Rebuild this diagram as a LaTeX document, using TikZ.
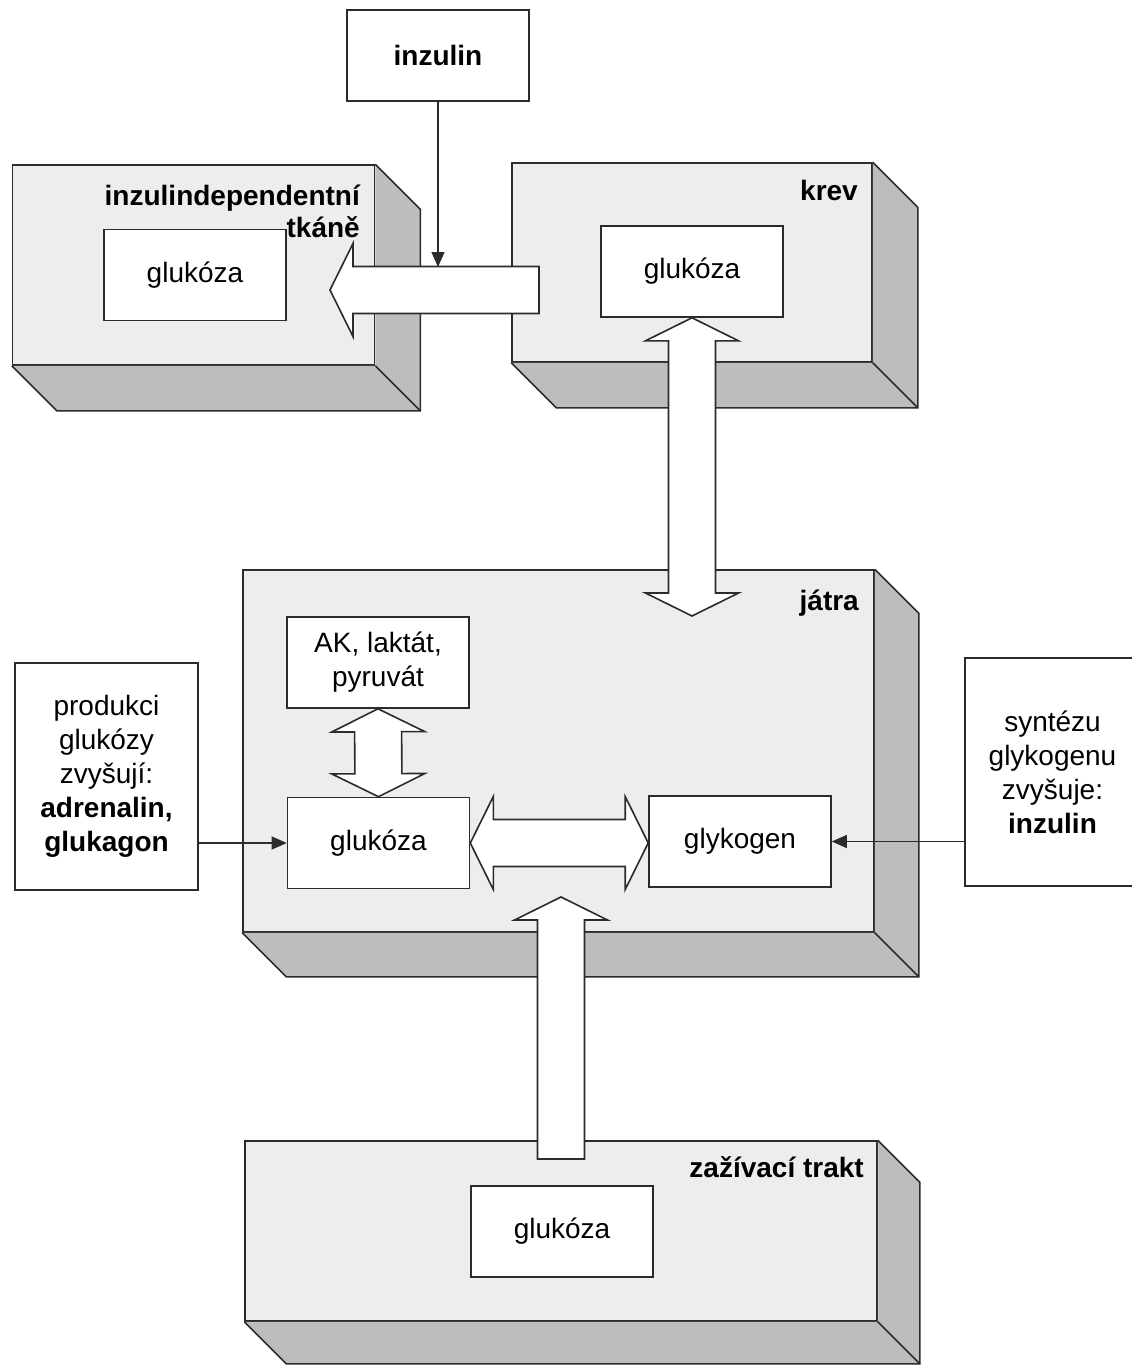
\documentclass[tikz,border=0pt]{standalone}
\usepackage{fontspec}
\setmainfont{Liberation Sans}
\usetikzlibrary{calc,arrows.meta}

\definecolor{facegray}{HTML}{EDEDED}
\definecolor{sidegray}{HTML}{BDBDBD}
\definecolor{ink}{HTML}{2B2B2B}

\newcommand\lab{\fontsize{28}{34}\selectfont}

% 3D slab: side and bottom faces behind a front node
\newcommand\slab[2]{%
  \fill[sidegray] (#1.north east) -- ++(#2,#2) -- ($(#1.south east)+(#2,#2)$)
    -- ($(#1.south west)+(#2,#2)$) -- (#1.south west) -- (#1.south east) -- cycle;
  \draw[edge] (#1.north east) -- ++(#2,#2) -- ($(#1.south east)+(#2,#2)$)
    -- ($(#1.south west)+(#2,#2)$) -- (#1.south west);
  \draw[edge] (#1.south east) -- ++(#2,#2);
}

% wide hollow arrow from tail #1 to tip #2
\newcommand\onearrow[2]{%
  \coordinate (ah) at ($(#2)!23pt!(#1)$);
  \draw[blockarrow] ($(#1)!23.5pt!90:(#2)$) -- ($(ah)!23.5pt!90:(#2)$)
    -- ($(ah)!46.5pt!90:(#2)$) -- (#2) -- ($(ah)!46.5pt!-90:(#2)$)
    -- ($(ah)!23.5pt!-90:(#2)$) -- ($(#1)!23.5pt!-90:(#2)$) -- cycle;
}

% wide hollow double arrow between #1 and #2
\newcommand\twoarrow[2]{%
  \coordinate (da) at ($(#1)!23pt!(#2)$);
  \coordinate (db) at ($(#2)!23pt!(#1)$);
  \draw[blockarrow] (#1) -- ($(da)!46.5pt!90:(#2)$) -- ($(da)!23.5pt!90:(#2)$)
    -- ($(db)!23.5pt!-90:(#1)$) -- ($(db)!46.5pt!-90:(#1)$) -- (#2)
    -- ($(db)!46.5pt!90:(#1)$) -- ($(db)!23.5pt!90:(#1)$)
    -- ($(da)!23.5pt!-90:(#2)$) -- ($(da)!46.5pt!-90:(#2)$) -- cycle;
}

\begin{document}
\begin{tikzpicture}[x=1pt,y=-1pt,
  edge/.style={draw=ink,line width=1.6pt,line join=miter},
  front/.style={edge,fill=facegray,inner sep=0pt},
  box/.style={edge,fill=white,inner sep=0pt,font=\lab,align=center,
    minimum width=182pt,minimum height=91pt},
  note/.style={edge,fill=white,inner sep=0pt,font=\lab,align=center},
  title/.style={inner sep=0pt,font=\lab\bfseries,anchor=base east},
  blockarrow/.style={edge,fill=white},
  thin/.style={draw=ink,line width=1.3pt,-{Triangle[length=15pt,width=13pt]}}]

\fill[white] (0,0) rectangle (1132,1366);
\clip (0,0) rectangle (1132,1366);

% slabs
\node[front,minimum width=362pt,minimum height=200pt] (tk) at (193.5,265) {};
\slab{tk}{45}
\node[front,minimum width=360pt,minimum height=199pt] (krev) at (692,262.5) {};
\slab{krev}{45}
\node[front,minimum width=631pt,minimum height=362pt] (jatra) at (558.5,751) {};
\slab{jatra}{44}
\node[front,minimum width=632pt,minimum height=180pt] (zaz) at (561,1231) {};
\slab{zaz}{42}

% inner boxes
\node[box] (inz) at (438,55.5) {\textbf{inzulin}};
\node[box] (tkglu) at (195,275) {glukóza};
\node[box] (krevglu) at (692,271.5) {glukóza};
\node[box] (ak) at (378,662.5) {AK, laktát,\\pyruvát};
\node[box] (jglu) at (378.5,843) {glukóza};
\node[box] (glyk) at (740,841.5) {glykogen};
\node[box] (zazglu) at (562,1231.5) {glukóza};

% side notes
\node[note,minimum width=183pt,minimum height=227pt] (lbox) at (106.5,776.5)
  {produkci\\glukózy\\zvyšují:\\\textbf{adrenalin,}\\\textbf{glukagon}};
\node[note,minimum width=175pt,minimum height=228pt] (rbox) at (1052.5,772)
  {syntézu\\glykogenu\\zvyšuje:\\\textbf{inzulin}};

% titles
\node[title] (tktitle) at (360,205) {inzulindependentní};
\node[title] (tktitle2) at (360,237) {tkáně};
\node[title] (krevtitle) at (858,200) {krev};
\node[title] (jatratitle) at (859,610) {játra};
\node[title] (zaztitle) at (864,1177) {zažívací trakt};

% anchor points of the wide arrows
\coordinate (tkout) at (539,290);
\coordinate (tkin) at (330,290);
\coordinate (jatrain) at (krevglu.south |- 0,616);
\coordinate (zazout) at (561,1159);
\coordinate (zazin) at (561,897);
\coordinate (inzhit) at (inz.south |- 0,267);

% wide arrows
\onearrow{tkout}{tkin}
\twoarrow{krevglu.south}{jatrain}
\twoarrow{ak.south}{jglu.north}
\twoarrow{jglu.east}{glyk.west |- jglu.east}
\onearrow{zazout}{zazin}

% regulation arrows
\draw[thin] (inz.south) -- (inzhit);
\draw[thin] (lbox.east |- jglu.west) -- (jglu.west);
\draw[thin] (rbox.west |- glyk.east) -- (glyk.east);
\end{tikzpicture}
\end{document}
